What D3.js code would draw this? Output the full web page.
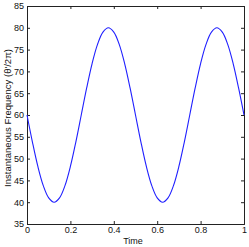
<!DOCTYPE html>
<html>
<head>
<meta charset="utf-8">
<script src="https://cdn.jsdelivr.net/npm/d3@7"></script>
<style>
  body { margin: 0; background: #fff; }
  svg { display: block; font-family: "Liberation Sans", Arial, sans-serif; }
</style>
</head>
<body>
<div id="container"></div>
<script>
const time = [0, 0.025, 0.05, 0.075, 0.1, 0.125, 0.15, 0.175, 0.2, 0.225,
  0.25, 0.275, 0.3, 0.325, 0.35, 0.375, 0.4, 0.425, 0.45, 0.475,
  0.5, 0.525, 0.55, 0.575, 0.6, 0.625, 0.65, 0.675, 0.7, 0.725,
  0.75, 0.775, 0.8, 0.825, 0.85, 0.875, 0.9, 0.925, 0.95, 0.975, 1];
const freq = [60, 53.8, 48.2, 43.8, 41.0, 40, 41.0, 43.8, 48.2, 53.8,
  60, 66.2, 71.8, 76.2, 79.0, 80, 79.0, 76.2, 71.8, 66.2,
  60, 53.8, 48.2, 43.8, 41.0, 40, 41.0, 43.8, 48.2, 53.8,
  60, 66.2, 71.8, 76.2, 79.0, 80, 79.0, 76.2, 71.8, 66.2, 60];
const xTicks = [0, 0.2, 0.4, 0.6, 0.8, 1];
const yTicks = [35, 40, 45, 50, 55, 60, 65, 70, 75, 80, 85];

const W = 249, H = 247;
const mLeft = 27, mRight = 244, mTop = 6, mBottom = 224;

const svg = d3.select('#container').append('svg')
    .attr('width', W).attr('height', H);

const xScale = d3.scaleLinear().domain([0, 1]).range([mLeft, mRight]);
const yScale = d3.scaleLinear().domain([35, 85]).range([mBottom, mTop]);

const tickFmt = d => d3.format('')(d);

// bottom + top axes
svg.append('g')
    .attr('transform', 'translate(0,' + mBottom + ')')
    .call(d3.axisBottom(xScale).tickValues(xTicks).tickSize(-3).tickPadding(3).tickFormat(tickFmt));
svg.append('g')
    .attr('transform', 'translate(0,' + mTop + ')')
    .call(d3.axisTop(xScale).tickValues(xTicks).tickSize(-3).tickFormat(''));
// left + right axes
svg.append('g')
    .attr('transform', 'translate(' + mLeft + ',0)')
    .call(d3.axisLeft(yScale).tickValues(yTicks).tickSize(-3).tickPadding(3).tickFormat(tickFmt));
svg.append('g')
    .attr('transform', 'translate(' + mRight + ',0)')
    .call(d3.axisRight(yScale).tickValues(yTicks).tickSize(-3).tickFormat(''));

svg.selectAll('.domain').attr('stroke', '#222').attr('stroke-width', 1);
svg.selectAll('.tick line').attr('stroke', '#222');
svg.selectAll('.tick text').attr('font-size', 9).attr('fill', '#111')
    .attr('font-family', '"Liberation Sans", Arial, sans-serif');

const line = d3.line()
    .x((d, i) => xScale(time[i]))
    .y(d => yScale(d))
    .curve(d3.curveCatmullRom);

svg.append('path')
    .datum(freq)
    .attr('fill', 'none')
    .attr('stroke', '#1f1fff')
    .attr('stroke-width', 1.1)
    .attr('d', line);

svg.append('text')
    .attr('x', 133)
    .attr('y', 244)
    .attr('text-anchor', 'middle')
    .attr('font-size', 9)
    .attr('fill', '#111')
    .text('Time');

svg.append('text')
    .attr('transform', 'translate(10.5,118) rotate(-90)')
    .attr('text-anchor', 'middle')
    .attr('font-size', 9.5)
    .attr('fill', '#111')
    .text('Instantaneous Frequency (\u03B8\'/2\u03C0)');
</script>
</body>
</html>
